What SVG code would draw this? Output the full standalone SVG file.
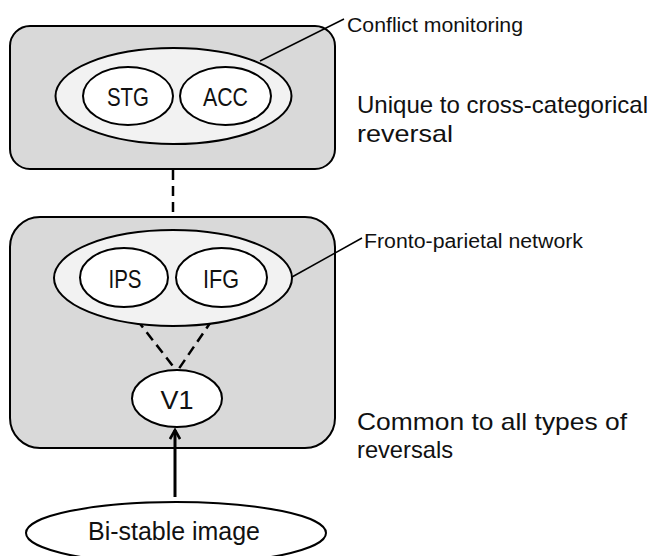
<svg xmlns="http://www.w3.org/2000/svg" width="657" height="556" viewBox="0 0 657 556">
<style>
.box{fill:#d9d9d9;stroke:#000;stroke-width:2}
.grp{fill:#f2f2f2;stroke:#000;stroke-width:2}
.reg{fill:#fff;stroke:#000;stroke-width:2}
.lbl{font-family:"Liberation Sans",Arial,sans-serif;fill:#111}
.dash{stroke:#000;stroke-width:2.5;stroke-dasharray:10,6;fill:none}
.lead{stroke:#000;stroke-width:1.5;fill:none}
</style>
<defs>
<marker id="arr" viewBox="0 0 12 12" refX="10" refY="6" markerWidth="4" markerHeight="4" orient="auto" markerUnits="strokeWidth">
<path d="M1,1 L10,6 L1,11" fill="none" stroke="#000" stroke-width="2.6"/>
</marker>
</defs>
<rect width="657" height="556" fill="#fff"/>
<g id="top-box">
<rect class="box" x="10" y="26" width="325" height="143" rx="20"/>
</g>
<g id="bottom-box">
<rect class="box" x="10" y="217" width="325" height="231" rx="30"/>
</g>
<g id="connectors">
<line class="dash" x1="173" y1="170" x2="173" y2="217"/>
<line class="dash" x1="127" y1="307" x2="176" y2="370"/>
<line class="dash" x1="221" y1="307" x2="178" y2="370"/>
<line x1="175" y1="497" x2="175" y2="430" stroke="#000" stroke-width="3" marker-end="url(#arr)"/>
<line class="lead" x1="260" y1="61" x2="344" y2="19"/>
<line class="lead" x1="292" y1="277" x2="362" y2="238"/>
</g>
<g id="conflict-monitoring">
<ellipse class="grp" cx="173.5" cy="96" rx="118" ry="48"/>
<text class="lbl" x="347" y="32" font-size="20" textLength="176" lengthAdjust="spacingAndGlyphs">Conflict monitoring</text>
</g>
<g id="STG">
<ellipse class="reg" cx="128" cy="96" rx="45" ry="29"/>
<text class="lbl" x="128" y="106" font-size="25" text-anchor="middle" textLength="42" lengthAdjust="spacingAndGlyphs">STG</text>
</g>
<g id="ACC">
<ellipse class="reg" cx="225.5" cy="96" rx="45.5" ry="29"/>
<text class="lbl" x="225.5" y="106" font-size="25" text-anchor="middle" textLength="45" lengthAdjust="spacingAndGlyphs">ACC</text>
</g>
<g id="fronto-parietal-network">
<ellipse class="grp" cx="173" cy="278" rx="119" ry="48"/>
<text class="lbl" x="364" y="248" font-size="20" textLength="219" lengthAdjust="spacingAndGlyphs">Fronto-parietal network</text>
</g>
<g id="IPS">
<ellipse class="reg" cx="124" cy="277.5" rx="44" ry="29.5"/>
<text class="lbl" x="125" y="288" font-size="25" text-anchor="middle" textLength="33" lengthAdjust="spacingAndGlyphs">IPS</text>
</g>
<g id="IFG">
<ellipse class="reg" cx="221.5" cy="277.5" rx="45.5" ry="29.5"/>
<text class="lbl" x="221" y="288" font-size="25" text-anchor="middle" textLength="36" lengthAdjust="spacingAndGlyphs">IFG</text>
</g>
<g id="V1">
<ellipse class="reg" cx="177" cy="398.5" rx="45" ry="28.5"/>
<text class="lbl" x="177" y="409" font-size="25" text-anchor="middle" textLength="33" lengthAdjust="spacingAndGlyphs">V1</text>
</g>
<g id="bistable-image">
<ellipse class="reg" cx="176" cy="533" rx="150" ry="31"/>
<text class="lbl" x="174" y="540" font-size="25" text-anchor="middle" textLength="172" lengthAdjust="spacingAndGlyphs">Bi-stable image</text>
</g>
<g id="label-unique">
<text class="lbl" x="357" y="113" font-size="24" textLength="291" lengthAdjust="spacingAndGlyphs">Unique to cross-categorical</text>
<text class="lbl" x="357" y="142" font-size="24" textLength="96" lengthAdjust="spacingAndGlyphs">reversal</text>
</g>
<g id="label-common">
<text class="lbl" x="357" y="430" font-size="24" textLength="270" lengthAdjust="spacingAndGlyphs">Common to all types of</text>
<text class="lbl" x="357" y="458" font-size="24" textLength="96" lengthAdjust="spacingAndGlyphs">reversals</text>
</g>
</svg>
